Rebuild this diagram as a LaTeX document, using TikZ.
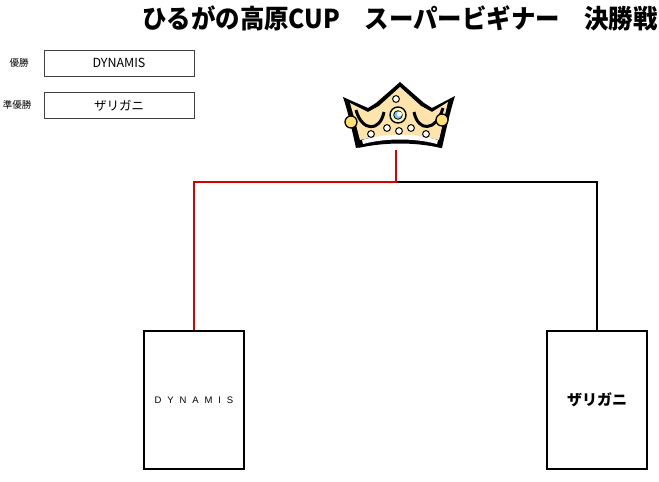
\documentclass[tikz,border=0pt]{standalone}
\usepackage{fontspec}
\newfontfamily\cjk{Noto Sans CJK JP}
\newfontfamily\spaced[LetterSpace=62]{Liberation Sans}
\begin{document}
\begin{tikzpicture}[x=1pt,y=-1pt,
  smallbox/.style={draw=black!75,line width=0.8pt,minimum width=150pt,minimum height=26pt,inner sep=0pt,font=\cjk\fontsize{12.5}{12.5}\selectfont},
  teambox/.style={draw=black,line width=2.6pt,minimum width=100pt,minimum height=138pt,inner sep=0pt},
  win/.style={draw=red!85!black,line width=1.6pt},
  lose/.style={draw=black,line width=1.6pt},
  lbl/.style={font=\cjk\fontsize{9.5}{9.5}\selectfont,inner sep=0pt}]
\useasboundingbox (0,0) rectangle (659,482);
% title
\node[font=\cjk\bfseries\fontsize{26}{26}\selectfont,inner sep=0pt,xscale=0.94] (title) at (400,18) {ひるがの高原CUP　スーパービギナー　決勝戦};
% results
\node[lbl] (l1) at (19,63) {優勝};
\node[smallbox] (b1) at (119,63) {DYNAMIS};
\node[lbl] (l2) at (17,105) {準優勝};
\node[smallbox] (b2) at (119,105.5) {ザリガニ};
% team boxes
\node[teambox] (t1) at (194,400) {};
\node[font=\spaced\fontsize{9.5}{9.5}\selectfont] at (t1.center) {DYNAMIS};
\node[teambox] (t2) at (597,400) {};
\node[font=\cjk\bfseries\fontsize{15}{15}\selectfont] at (t2.center) {ザリガニ};
% bracket
\coordinate (top) at (396,150);
\coordinate (mid) at (396,182);
\draw[lose] (mid) -| (t2.north);
\draw[win] (top) -- (mid) -| (t1.north);
% crown
\begin{scope}[line join=round]
\fill[black] (356,148) .. controls (352,130) and (348,112) .. (343,97)
  -- (368,108) -- (376,103) -- (400,82) -- (424,103) -- (432,108) -- (455,96)
  .. controls (450,112) and (446,130) .. (442,148) .. controls (415,141) and (385,141) .. cycle;
\fill[yellow!35!orange!30] (360,140) .. controls (356,125) and (353,113) .. (350,103)
  -- (368,112) -- (379,106) -- (400,87) -- (421,106) -- (432,112) -- (448,102)
  .. controls (445,115) and (442,127) .. (439,140) .. controls (415,134) and (385,134) .. cycle;
% inner black U curves
\draw[line width=3pt] (356,110) .. controls (362,132) and (380,132) .. (384,112);
\draw[line width=3pt] (414,112) .. controls (418,132) and (436,132) .. (443,108);
% white band
\fill[white] (362,140) .. controls (385,133) and (415,133) .. (438,140) -- (437,144) .. controls (415,138) and (385,138) .. (363,144) -- cycle;
\fill[black] (360,146) .. controls (385,139) and (415,139) .. (441,146) -- (441,148) .. controls (415,142) and (385,142) .. (358,148) -- cycle;
% jewels
\filldraw[fill=yellow!30,draw=black,line width=1.4pt] (398,115) circle (8);
\filldraw[fill=blue!45!cyan!50,draw=black,line width=0.8pt] (398,115) circle (4.3);
\fill[white] (399.5,114) circle (2.5);
\foreach \p in {(396,99),(387,128),(399,131),(411,128),(371,134),(426,134)}
  \filldraw[fill=white,draw=black,line width=1pt] \p circle (3.4);
\filldraw[fill=orange!45!yellow!55,draw=black,line width=1.3pt] (351,122) circle (6);
\filldraw[fill=orange!45!yellow!55,draw=black,line width=1.3pt] (442,120) circle (6);
\end{scope}
\end{tikzpicture}
\end{document}
